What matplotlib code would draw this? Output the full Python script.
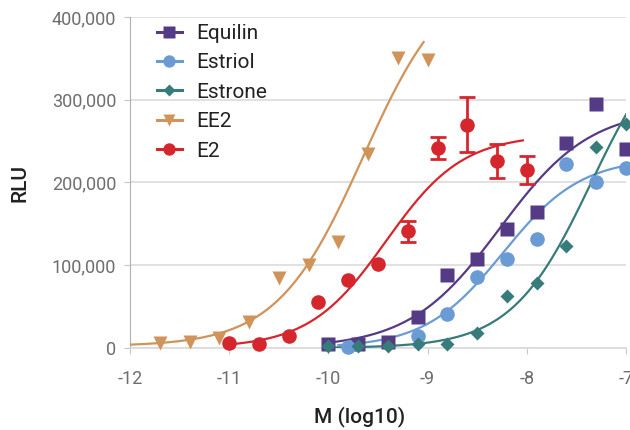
import numpy as np
import matplotlib
matplotlib.use("Agg")
import matplotlib.pyplot as plt
from matplotlib.ticker import FuncFormatter

plt.rcParams["font.family"] = ["Roboto", "DejaVu Sans"]

# measured points (log10 M, RLU)
equilin_x = [-10.0, -9.7, -9.4, -9.1, -8.8, -8.5, -8.2, -7.9, -7.6, -7.3, -7.0]
equilin_y = [5000, 5000, 7000, 37000, 88000, 108000, 144000, 164000, 248000, 295000, 240000]

estriol_x = [-9.8, -9.1, -8.8, -8.5, -8.2, -7.9, -7.6, -7.3, -7.0]
estriol_y = [1000, 15000, 41000, 86000, 108000, 132000, 222000, 201000, 218000]

estrone_x = [-10.0, -9.7, -9.4, -9.1, -8.8, -8.5, -8.2, -7.9, -7.6, -7.3, -7.0]
estrone_y = [3000, 3000, 3000, 5000, 5000, 18000, 63000, 79000, 123000, 243000, 271000]

ee2_x = [-11.7, -11.4, -11.1, -10.8, -10.5, -10.2, -9.9, -9.6, -9.3, -9.0]
ee2_y = [6000, 7000, 12000, 32000, 84000, 100000, 128000, 235000, 350000, 348000]

e2_x = [-11.0, -10.7, -10.4, -10.1, -9.8, -9.5, -9.2, -8.9, -8.6, -8.3, -8.0]
e2_y = [6000, 5000, 15000, 56000, 82000, 102000, 141000, 242000, 270000, 226000, 215000]
e2_err = [0, 0, 0, 0, 0, 0, 13000, 13000, 33000, 21000, 17000]

# four-parameter logistic fits: bottom, top, logEC50, hill, x range
fits = {
    "Equilin": (0, 290000, -8.27, 0.95, -10.0, -7.0),
    "Estriol": (0, 230000, -8.24, 1.10, -9.9, -7.0),
    "Estrone": (0, 400000, -7.35, 1.08, -10.0, -7.0),
    "EE2": (2000, 460000, -9.65, 1.00, -12.0, -9.04),
    "E2": (0, 258000, -9.42, 1.12, -11.0, -8.04),
}

colors = {
    "Equilin": "#553a86",
    "Estriol": "#6a9bd4",
    "Estrone": "#377b7b",
    "EE2": "#d0935a",
    "E2": "#d6262d",
}


def four_pl(x, bottom, top, ec50, hill):
    return bottom + (top - bottom) / (1 + 10 ** ((ec50 - x) * hill))


fig = plt.figure(figsize=(6.3, 4.3), dpi=100)
ax = fig.add_axes([130 / 630, 82 / 430, 496 / 630, 331 / 430])

series = [
    ("Equilin", equilin_x, equilin_y, "s", 10),
    ("Estriol", estriol_x, estriol_y, "o", 10.5),
    ("Estrone", estrone_x, estrone_y, "D", 7.5),
    ("EE2", ee2_x, ee2_y, "v", 9.5),
    ("E2", e2_x, e2_y, "o", 10.5),
]

handles = []
for name, xs, ys, marker, ms in series:
    b, t, c, h, x0, x1 = fits[name]
    xx = np.linspace(x0, x1, 200)
    ax.plot(xx, four_pl(xx, b, t, c, h), color=colors[name], lw=1.6, zorder=3)
    ax.plot(xs, ys, marker, color=colors[name], ms=ms, mec="none", zorder=4,
            clip_on=False)
    handles.append(plt.Line2D([0], [0], color=colors[name], lw=2.2, marker=marker,
                              ms=ms * 0.85, mec="none", label=name))

# error bars only on the upper E2 points
idx = [i for i, e in enumerate(e2_err) if e > 0]
ax.errorbar([e2_x[i] for i in idx], [e2_y[i] for i in idx],
            yerr=[e2_err[i] for i in idx], fmt="none", ecolor=colors["E2"],
            elinewidth=2, capsize=6, capthick=2, zorder=4)

ax.set_xlim(-12, -7)
ax.set_ylim(0, 400000)
ax.set_xticks(np.arange(-12, -6))
ax.set_xticklabels([str(v) for v in range(-12, -6)])
ax.set_yticks(np.arange(0, 400001, 100000))
ax.yaxis.set_major_formatter(FuncFormatter(lambda v, p: f"{int(v):,}"))

ax.grid(axis="y", color="#dcdcdc", lw=1.2)
ax.set_axisbelow(True)
for s in ["top", "right"]:
    ax.spines[s].set_visible(False)
ax.spines["left"].set_color("#b0b0b0")
ax.spines["bottom"].set_color("#d9d9d9")
ax.spines["bottom"].set_linewidth(1.2)
ax.tick_params(axis="both", colors="#c8c8c8", labelcolor="#6e6e6e",
               labelsize=13, length=4)
ax.tick_params(axis="x", pad=12)
ax.tick_params(axis="y", pad=6)

ax.set_xlabel("M (log10)", fontsize=15, fontweight="medium", color="#222222")
ax.xaxis.set_label_coords(0.462, -0.208)
ax.xaxis.label.set_va("center")
ax.set_ylabel("RLU", fontsize=15, fontweight="medium", color="#222222")
ax.yaxis.set_label_coords(-0.222, 0.5)
ax.yaxis.label.set_va("center")

ax.legend(handles=handles, loc="upper left", bbox_to_anchor=(0.054, 0.979),
          frameon=False, fontsize=15, handlelength=1.2, handletextpad=0.7,
          labelspacing=0.5, borderpad=0, borderaxespad=0,
          labelcolor="#222222")

fig.savefig("out.png", dpi=100)
